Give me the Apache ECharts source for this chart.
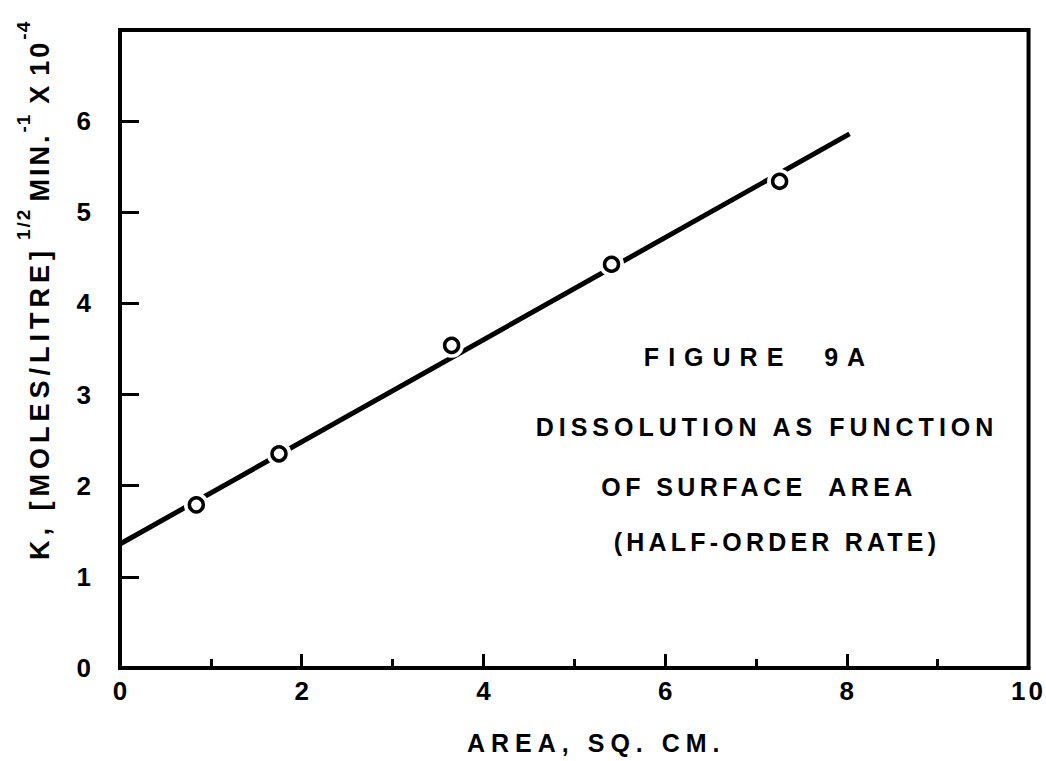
<!DOCTYPE html>
<html>
<head>
<meta charset="utf-8">
<script src="https://cdn.jsdelivr.net/npm/echarts@6/dist/echarts.min.js"></script>
<style>
html,body{margin:0;padding:0;background:#fff;}
#chart{width:1046px;height:761px;}
</style>
</head>
<body>
<div id="chart"></div>
<script>
// ---- data ----
var pointX = [0.84, 1.75, 3.65, 5.41, 7.26];
var pointY = [1.79, 2.35, 3.54, 4.43, 5.34];
var lineX = [0, 8.03];
var lineY = [1.36, 5.86];
var xTickLabels = ['0', '2', '4', '6', '8', '10'];
var yTickLabels = ['0', '1', '2', '3', '4', '5', '6'];
var xAxisTitle = 'AREA, SQ. CM.';
// y title pieces: text, is superscript
var yTitleText = ['K, [MOLES/LITRE]', '1/2', 'MIN.', '-1', 'X', '10', '-4'];
var yTitleSup = [false, true, false, true, false, false, true];
var noteLines = ['FIGURE  9A', 'DISSOLUTION AS FUNCTION', 'OF SURFACE  AREA', '(HALF-ORDER RATE)'];

var FONT = 'Liberation Sans';
var points = pointX.map(function (x, i) { return [x, pointY[i]]; });
var fitLine = lineX.map(function (x, i) { return [x, lineY[i]]; });

// letter spacing (px) for the hand-lettered look
var spacingMap = {};
spacingMap[noteLines[0]] = 9;
spacingMap[noteLines[1]] = 5;
spacingMap[noteLines[2]] = 4.4;
spacingMap[noteLines[3]] = 4.2;
spacingMap[xAxisTitle] = 6;
spacingMap['10'] = 3;
var ySpacing = [5, 2, 3, 1, 0, 3, 1];
yTitleText.forEach(function (t, i) { if (spacingMap[t] === undefined) spacingMap[t] = ySpacing[i]; });

// build the rotated y-axis title from pieces
var measureCtx = document.createElement('canvas').getContext('2d');
function textWidth(t, size) {
  measureCtx.font = 'bold ' + size + 'px "' + FONT + '"';
  return measureCtx.measureText(t).width;
}
var MAIN_SIZE = 27, SUP_SIZE = 19;
var gapsAfter = [6, 6, 0, 10, 10, 0, 0];
var yTitleChildren = [];
var cursor = 0;
yTitleText.forEach(function (t, i) {
  var size = yTitleSup[i] ? SUP_SIZE : MAIN_SIZE;
  yTitleChildren.push({
    type: 'text', x: cursor, y: yTitleSup[i] ? -17 : 0,
    style: { text: t, fill: '#000', font: 'bold ' + size + 'px "' + FONT + '"', align: 'left', verticalAlign: 'middle', textAlign: 'left', textVerticalAlign: 'middle' }
  });
  cursor += textWidth(t, size) + t.length * spacingMap[t] + gapsAfter[i];
});

var chart = echarts.init(document.getElementById('chart'), null, { renderer: 'svg' });

var noteY = [357, 427, 487, 542];
var noteX = [759, 767, 759, 777];

var graphics = noteLines.map(function (t, i) {
  return {
    type: 'text', x: noteX[i], y: noteY[i], z: 50,
    style: { text: t, fill: '#000', font: 'bold 25px "' + FONT + '"', align: 'center', verticalAlign: 'middle', textAlign: 'center', textVerticalAlign: 'middle' }
  };
});
graphics.push({ type: 'group', x: 40, y: 560, rotation: Math.PI / 2, children: yTitleChildren });

var option = {
  animation: false,
  backgroundColor: '#fff',
  grid: { left: 120, right: 15, top: 30, bottom: 93, show: true, borderColor: '#000', borderWidth: 4, backgroundColor: 'transparent' },
  xAxis: {
    type: 'value', min: 0, max: 10, interval: 2,
    axisLine: { show: true, lineStyle: { color: '#000', width: 4 } },
    axisTick: { show: true, inside: true, length: 14, lineStyle: { color: '#000', width: 3 } },
    minorTick: { show: true, splitNumber: 2, length: 9, lineStyle: { color: '#000', width: 3 } },
    splitLine: { show: false },
    axisLabel: {
      margin: 10, color: '#000', fontSize: 26, fontWeight: 'bold', fontFamily: FONT,
      formatter: function (v) { var i = Math.round(v / 2); return xTickLabels[i] !== undefined ? xTickLabels[i] : ''; }
    },
    name: xAxisTitle, nameLocation: 'middle', nameGap: 62,
    nameTextStyle: { color: '#000', fontSize: 25, fontWeight: 'bold', fontFamily: FONT, padding: [0, 0, 0, 44] }
  },
  yAxis: {
    type: 'value', min: 0, max: 7, interval: 1,
    axisLine: { show: true, lineStyle: { color: '#000', width: 4 } },
    axisTick: { show: true, inside: true, length: 19, lineStyle: { color: '#000', width: 3 } },
    splitLine: { show: false },
    axisLabel: {
      margin: 29, color: '#000', fontSize: 26, fontWeight: 'bold', fontFamily: FONT,
      formatter: function (v) { return yTickLabels[Math.round(v)] !== undefined ? yTickLabels[Math.round(v)] : ''; }
    }
  },
  graphic: graphics,
  series: [
    { type: 'line', data: fitLine, showSymbol: false, symbol: 'none', lineStyle: { color: '#000', width: 5 }, z: 2 },
    { type: 'scatter', data: points, symbol: 'circle', symbolSize: 25, itemStyle: { color: '#fff', borderWidth: 0, opacity: 1 }, z: 3, silent: true },
    { type: 'scatter', data: points, symbol: 'circle', symbolSize: 14, itemStyle: { color: '#fff', borderColor: '#000', borderWidth: 3.5, opacity: 1 }, z: 4 }
  ]
};
chart.setOption(option);

function applySpacing() {
  var texts = document.querySelectorAll('#chart text');
  for (var i = 0; i < texts.length; i++) {
    var s = spacingMap[texts[i].textContent];
    if (s !== undefined && s > 0) texts[i].setAttribute('letter-spacing', s);
  }
}
chart.on('finished', applySpacing);
applySpacing();
setTimeout(applySpacing, 0);
setTimeout(applySpacing, 200);
</script>
</body>
</html>
